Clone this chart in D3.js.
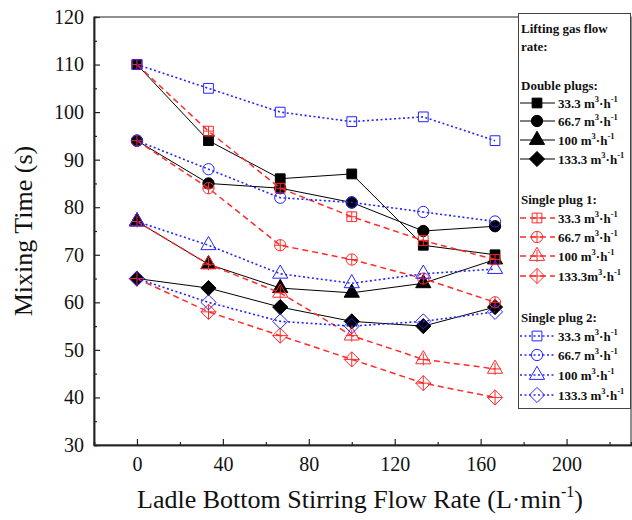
<!DOCTYPE html>
<meta charset="utf-8">
<style>
body { margin: 0; background: #fff; }
text { font-family: "Liberation Serif", "Times New Roman", serif; }
.legend text { font-weight: bold; font-size: 13px; }
</style>
<svg width="632" height="520"></svg>
<script src="https://cdnjs.cloudflare.com/ajax/libs/d3/7.8.5/d3.min.js"></script>
<script>
"use strict";

// data
var flowRates = [0, 33.3, 66.7, 100, 133.3, 166.7];
var gasRates = ["33.3", "66.7", "100", "133.3"];
var doublePlugs = [
  [110, 94, 86, 87, 72, 70],
  [94, 85, 84, 81, 75, 76],
  [77, 68, 63, 62, 64, 69],
  [65, 63, 59, 56, 55, 59]
];
var singlePlug1 = [
  [110, 96, 84, 78, 73, 69],
  [94, 84, 72, 69, 65, 60],
  [77, 68, 62, 53, 48, 46],
  [65, 58, 53, 48, 43, 40]
];
var singlePlug2 = [
  [110, 105, 100, 98, 99, 94],
  [94, 88, 82, 81, 79, 77],
  [77, 72, 66, 64, 66, 67],
  [65, 60, 56, 55, 56, 58]
];
var xTicks = [0, 40, 80, 120, 160, 200];
var yTicks = [30, 40, 50, 60, 70, 80, 90, 100, 110, 120];

var svg = d3.select("svg");

var x = d3.scaleLinear().domain([-20, 230]).range([94, 631]);
var y = d3.scaleLinear().domain([30, 120]).range([445, 17]);

// frame
svg.append("rect")
  .attr("x", 94).attr("y", 17)
  .attr("width", 537).attr("height", 428)
  .attr("fill", "none").attr("stroke", "#222").attr("stroke-width", 1);

// axes, ticks inward
svg.append("g").attr("transform", "translate(94,0)")
  .call(d3.axisLeft(y).tickValues(yTicks).tickSizeInner(-6).tickSizeOuter(0).tickPadding(10));
svg.append("g").attr("transform", "translate(94,0)")
  .call(d3.axisLeft(y).tickValues(d3.range(35, 120, 10)).tickSize(-3).tickFormat(""));
svg.append("g").attr("transform", "translate(0,445)")
  .call(d3.axisBottom(x).tickValues(xTicks).tickSizeInner(-6).tickSizeOuter(0).tickPadding(12));
svg.append("g").attr("transform", "translate(0,445)")
  .call(d3.axisBottom(x).tickValues([-20, 20, 60, 100, 140, 180, 220]).tickSize(-3).tickFormat(""));

svg.selectAll(".domain").attr("stroke", "#222").attr("stroke-width", 1.5);
svg.selectAll(".tick line").attr("stroke", "#222").attr("stroke-width", 1.2);
svg.selectAll(".tick text")
  .attr("font-family", "Liberation Serif").attr("font-size", 20).attr("fill", "#111");

// axis titles
svg.append("text")
  .attr("transform", "translate(32,231) rotate(-90)")
  .attr("text-anchor", "middle").attr("font-size", 26).attr("fill", "#111")
  .text("Mixing Time (s)");

var xt = svg.append("text")
  .attr("x", 360).attr("y", 508)
  .attr("text-anchor", "middle").attr("font-size", 26).attr("fill", "#111");
xt.append("tspan").text("Ladle Bottom Stirring Flow Rate (L\u00b7min");
xt.append("tspan").attr("font-size", 16).attr("dy", -11).text("-1");
xt.append("tspan").attr("dy", 11).text(")");

// marker shapes
var diamond = {
  draw: function(ctx, size) {
    var r = Math.sqrt(size / 2);
    ctx.moveTo(0, -r); ctx.lineTo(r, 0); ctx.lineTo(0, r); ctx.lineTo(-r, 0); ctx.closePath();
  }
};
var shapes = [d3.symbolSquare, d3.symbolCircle, d3.symbolTriangle, diamond];
var sizes = [95, 100, 100, 115];
var halfExt = [5, 5.6, 6, 7.6];

var groups = [
  { data: doublePlugs, color: "#000", dash: null, width: 1, fill: "#000", plus: false },
  { data: singlePlug1, color: "#ff2a2a", dash: "6,4", width: 1.5, fill: "none", plus: true },
  { data: singlePlug2, color: "#2424ff", dash: "2,2.5", width: 1.6, fill: "none", plus: false }
];

var line = d3.line()
  .x(function(d, i) { return x(flowRates[i]); })
  .y(function(d) { return y(d); });

function drawMarker(g, k, grp, cx, cy) {
  var m = g.append("g").attr("transform", "translate(" + cx + "," + cy + ")");
  m.append("path")
    .attr("d", d3.symbol().type(shapes[k]).size(sizes[k])())
    .attr("fill", grp.fill)
    .attr("stroke", grp.color)
    .attr("stroke-width", 1);
  if (grp.plus) {
    var h = halfExt[k];
    m.append("path")
      .attr("d", "M" + (-h) + ",0H" + h + "M0," + (-h) + "V" + h)
      .attr("stroke", grp.color).attr("stroke-width", 1);
  }
}

groups.forEach(function(grp) {
  var g = svg.append("g");
  grp.data.forEach(function(series, k) {
    g.append("path")
      .attr("d", line(series))
      .attr("fill", "none")
      .attr("stroke", grp.color)
      .attr("stroke-width", grp.width)
      .attr("stroke-dasharray", grp.dash);
    series.forEach(function(v, i) {
      drawMarker(g, k, grp, x(flowRates[i]), y(v));
    });
  });
});

// legend
var lg = svg.append("g").attr("class", "legend");
lg.append("rect")
  .attr("x", 518.5).attr("y", 13.5).attr("width", 112).attr("height", 395)
  .attr("fill", "#fff").attr("stroke", "#444").attr("stroke-width", 1);

var headers = [
  { text: "Lifting gas flow", y: 33 },
  { text: "rate:", y: 51 },
  { text: "Double plugs:", y: 90 },
  { text: "Single plug 1:", y: 204 },
  { text: "Single plug 2:", y: 322 }
];
headers.forEach(function(h) {
  lg.append("text").attr("x", 521).attr("y", h.y).attr("fill", "#111").text(h.text);
});

var rowY = [[103, 121, 140, 159], [218, 237, 256, 276], [336, 355, 375, 395]];
groups.forEach(function(grp, gi) {
  gasRates.forEach(function(rate, k) {
    var cy = rowY[gi][k];
    lg.append("line")
      .attr("x1", 520).attr("x2", 555).attr("y1", cy).attr("y2", cy)
      .attr("stroke", grp.color).attr("stroke-width", grp.width)
      .attr("stroke-dasharray", grp.dash);
    drawMarker(lg, k, grp, 537, cy);
    var t = lg.append("text").attr("x", 558).attr("y", cy + 5).attr("fill", "#111");
    var sep = (gi === 1 && k === 3) ? "" : " ";
    t.append("tspan").text(rate + sep + "m");
    t.append("tspan").attr("font-size", 8.5).attr("dy", -6).text("3");
    t.append("tspan").attr("dy", 6).text("\u00b7h");
    t.append("tspan").attr("font-size", 8.5).attr("dy", -6).text("-1");
  });
});
</script>
